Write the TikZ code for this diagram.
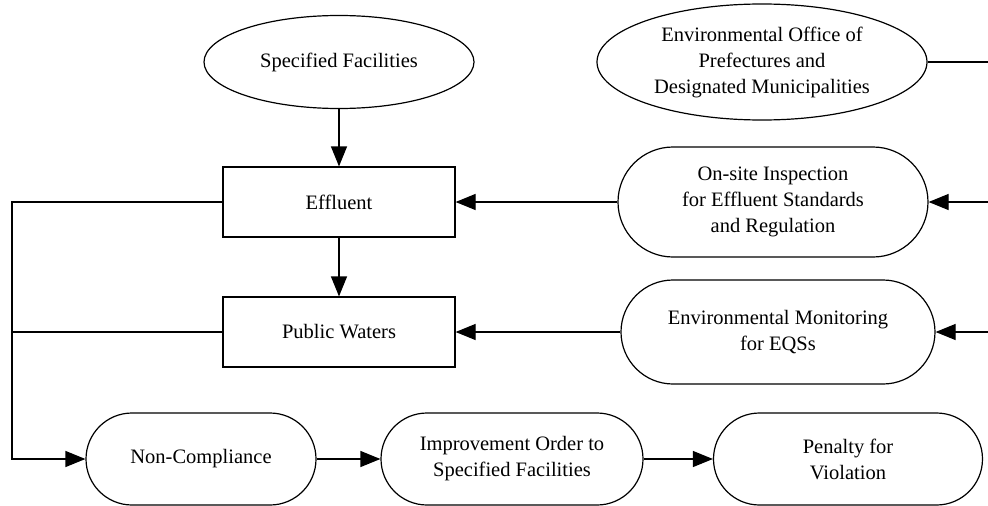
\documentclass[tikz,border=0pt]{standalone}
\usepackage{fontspec}
\setmainfont{Liberation Serif}
\usetikzlibrary{arrows.meta,shapes.geometric}
\begin{document}
\begin{tikzpicture}[x=1pt,y=-1pt,
  every node/.style={font=\fontsize{20.5}{26}\selectfont, align=center, inner sep=0pt, line width=1.2pt},
  oval/.style={draw, ellipse},
  boxnode/.style={draw, rectangle, minimum width=232pt, minimum height=70pt},
  pill/.style={draw, rectangle},
  conn/.style={line width=1.2pt},
  arr/.style={conn, -{Triangle[length=20pt,width=16pt]}}
]
\useasboundingbox (0,0) rectangle (988,506);
\fill[white] (0,0) rectangle (988,506);

\node[oval, minimum width=270pt, minimum height=93pt] (spec) at (339,62) {Specified Facilities};
\node[oval, minimum width=330pt, minimum height=116pt] (office) at (762,62) {Environmental Office of\\Prefectures and\\Designated Municipalities};

\node[boxnode] (eff) at (339,202) {Effluent};
\node[boxnode] (pw) at (339,332) {Public Waters};

\node[pill, minimum width=310pt, minimum height=110pt, rounded corners=55pt] (onsite) at (773,202) {On-site Inspection\\for Effluent Standards\\and Regulation};
\node[pill, minimum width=314pt, minimum height=104pt, rounded corners=52pt] (envmon) at (778,332) {Environmental Monitoring\\for EQSs};

\node[pill, minimum width=230pt, minimum height=92pt, rounded corners=46pt] (noncomp) at (201,459) {Non-Compliance};
\node[pill, minimum width=262pt, minimum height=92pt, rounded corners=46pt] (improve) at (512,459) {Improvement Order to\\Specified Facilities};
\node[pill, minimum width=269pt, minimum height=92pt, rounded corners=46pt] (penalty) at (848,459) {Penalty for\\Violation};

\coordinate (r1) at (988,62);
\coordinate (r2) at (988,202);
\coordinate (r3) at (988,332);
\coordinate (l1) at (12,202);
\coordinate (l2) at (12,332);
\coordinate (l3) at (12,459);

\draw[arr] (spec) -- (eff);
\draw[arr] (eff) -- (pw);
\draw[arr] (onsite.west) -- (eff.east);
\draw[arr] (envmon.west) -- (pw.east);
\draw[conn] (office.east) -- (r1);
\draw[arr] (r2) -- (onsite.east);
\draw[arr] (r3) -- (envmon.east);
\draw[arr] (eff.west) -- (l1) -- (l3) -- (noncomp.west);
\draw[conn] (pw.west) -- (l2);
\draw[arr] (noncomp) -- (improve);
\draw[arr] (improve) -- (penalty);
\end{tikzpicture}
\end{document}
